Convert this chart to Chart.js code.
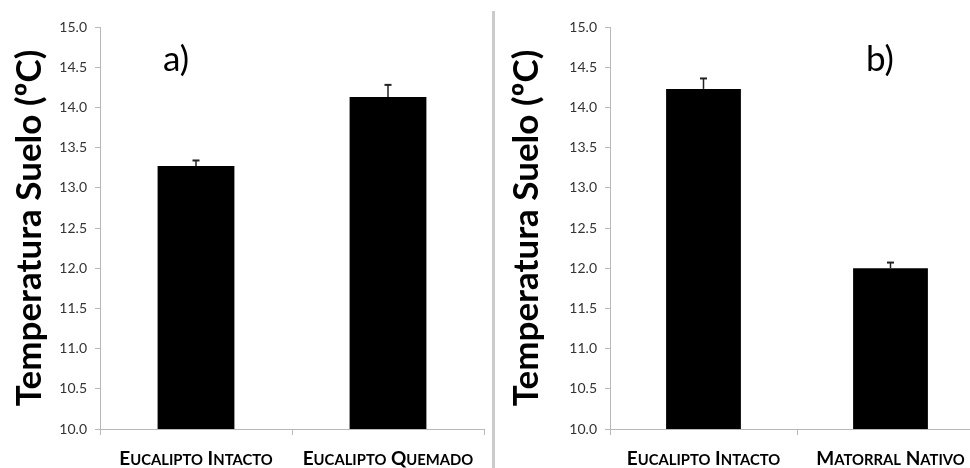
<!DOCTYPE html>
<html>
<head>
<meta charset="utf-8">
<script src="https://cdn.jsdelivr.net/npm/chart.js@4/dist/chart.umd.min.js"></script>
<style>
  html, body { margin: 0; padding: 0; background: #fff; overflow: hidden; }
  body { width: 970px; height: 468px; position: relative; }
  .panel { position: absolute; top: 0; height: 468px; }
  #sep { position: absolute; left: 492px; top: 11px; width: 3px; height: 457px; background: #cbcbcb; }
</style>
</head>
<body>
<div class="panel" id="pa" style="left:0;width:490px"><canvas id="chartA"></canvas></div>
<div id="sep"></div>
<div class="panel" id="pb" style="left:500px;width:490px"><canvas id="chartB"></canvas></div>
<script>
// Soil temperature (mean ± standard error) by vegetation cover
const categoriesA = ['Eucalipto Intacto', 'Eucalipto Quemado'];
const meansA = [13.27, 14.13];
const errorsA = [0.07, 0.15];

const categoriesB = ['Eucalipto Intacto', 'Matorral Nativo'];
const meansB = [14.23, 12.0];
const errorsB = [0.13, 0.07];

const yTickValues = [10.0, 10.5, 11.0, 11.5, 12.0, 12.5, 13.0, 13.5, 14.0, 14.5, 15.0];
const yTitle = 'Temperatura Suelo (ºC)';

const AXIS_GRAY = '#b8b8b8';

// Vertical error whiskers with a small cap on top of each bar
const errorBars = {
  id: 'errorBars',
  afterDatasetsDraw(chart, args, opts) {
    const { ctx } = chart;
    const y = chart.scales.y;
    const meta = chart.getDatasetMeta(0);
    const ds = chart.data.datasets[0];
    ctx.save();
    ctx.strokeStyle = '#222';
    meta.data.forEach((bar, i) => {
      const top = y.getPixelForValue(ds.data[i] + opts.errors[i]);
      const base = y.getPixelForValue(ds.data[i]);
      ctx.lineWidth = 1.5;
      ctx.beginPath();
      ctx.moveTo(bar.x, base);
      ctx.lineTo(bar.x, top);
      ctx.stroke();
      ctx.lineWidth = 2;
      ctx.beginPath();
      ctx.moveTo(bar.x - 3.5, top);
      ctx.lineTo(bar.x + 3.5, top);
      ctx.stroke();
    });
    ctx.restore();
  }
};

// Category names set in small capitals under each category slot
const smallCapsLabels = {
  id: 'smallCapsLabels',
  afterDraw(chart, args, opts) {
    const { ctx } = chart;
    const x = chart.scales.x;
    const big = 'bold 19px Lato';
    const small = 'bold 14.8px Lato';
    ctx.save();
    ctx.fillStyle = '#000';
    ctx.textBaseline = 'alphabetic';
    ctx.textAlign = 'left';
    chart.data.labels.forEach((label, i) => {
      const parts = [];
      label.split(' ').forEach((word, w) => {
        if (w > 0) parts.push({ t: ' ', f: big });
        parts.push({ t: word[0].toUpperCase(), f: big });
        if (word.length > 1) parts.push({ t: word.slice(1).toUpperCase(), f: small });
      });
      let total = 0;
      parts.forEach(p => { ctx.font = p.f; p.w = ctx.measureText(p.t).width; total += p.w; });
      let cx = x.getPixelForTick(i) - total / 2;
      parts.forEach(p => { ctx.font = p.f; ctx.fillText(p.t, cx, opts.baseline); cx += p.w; });
    });
    ctx.restore();
  }
};

// Panel letter in the plot area
const panelTag = {
  id: 'panelTag',
  afterDraw(chart, args, opts) {
    const { ctx } = chart;
    ctx.save();
    ctx.font = '35px Lato';
    ctx.fillStyle = '#000';
    ctx.textBaseline = 'alphabetic';
    ctx.fillText(opts.text, opts.x, opts.y);
    ctx.restore();
  }
};

function makeChart(id, categories, means, errors, tag, tagX, titlePad, yWidth) {
  return new Chart(document.getElementById(id), {
    type: 'bar',
    data: {
      labels: categories,
      datasets: [{
        data: means,
        backgroundColor: '#000',
        borderWidth: 0,
        barPercentage: 0.4,
        categoryPercentage: 1.0
      }]
    },
    options: {
      responsive: true,
      maintainAspectRatio: false,
      animation: false,
      events: [],
      layout: { padding: { top: 27, right: 6, left: 0, bottom: 0 } },
      plugins: {
        legend: { display: false },
        tooltip: { enabled: false },
        errorBars: { errors: errors },
        smallCapsLabels: { baseline: 465 },
        panelTag: { text: tag, x: tagX, y: 71 }
      },
      scales: {
        x: {
          offset: true,
          border: { color: AXIS_GRAY, width: 1 },
          grid: { display: true, offset: true, drawOnChartArea: false, color: AXIS_GRAY, tickLength: 6 },
          ticks: { display: false },
          afterFit(scale) { scale.height = 39; }
        },
        y: {
          min: 10,
          max: 15,
          afterBuildTicks(scale) { scale.ticks = yTickValues.map(v => ({ value: v })); },
          border: { color: AXIS_GRAY, width: 1 },
          grid: { display: true, drawOnChartArea: false, color: AXIS_GRAY, tickLength: 5 },
          ticks: {
            color: '#333',
            padding: 8,
            font: { family: 'Lato', size: 14 },
            callback: v => Number(v).toFixed(1)
          },
          title: {
            display: true,
            text: yTitle,
            color: '#000',
            padding: { top: titlePad, bottom: 0 },
            font: { family: 'Lato', size: 35, weight: 'bold' }
          },
          afterFit(scale) { scale.width = yWidth; }
        }
      }
    },
    plugins: [errorBars, smallCapsLabels, panelTag]
  });
}

makeChart('chartA', categoriesA, meansA, errorsA, 'a)', 163, 9, 100);
makeChart('chartB', categoriesB, meansB, errorsB, 'b)', 366, 6, 110);
</script>
</body>
</html>
